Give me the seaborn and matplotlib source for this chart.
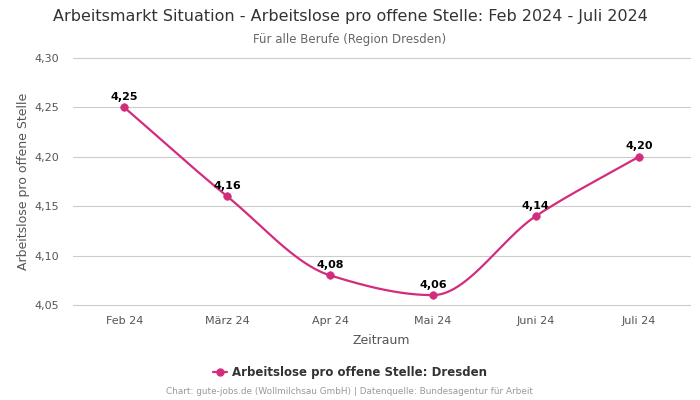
import numpy as np
import pandas as pd
import matplotlib
matplotlib.use("Agg")
import matplotlib.pyplot as plt
import seaborn as sns

months = ["Feb 24", "März 24", "Apr 24", "Mai 24", "Juni 24", "Juli 24"]
values = [4.25, 4.16, 4.08, 4.06, 4.14, 4.20]
yticks = [4.05, 4.10, 4.15, 4.20, 4.25, 4.30]

color = "#d42c7c"
sns.set_theme(style="white")
plt.rcParams['font.family'] = ['DejaVu Sans']

fig = plt.figure(figsize=(7, 4), dpi=100)
ax = fig.add_axes([0.104, 0.2375, 0.882, 0.6175])

df = pd.DataFrame({"x": np.arange(len(months)), "y": values, "series": "Arbeitslose pro offene Stelle: Dresden"})

# monotone cubic (PCHIP) smoothing for the rendered line
def pchip(x, y, xs):
    x = np.asarray(x, float); y = np.asarray(y, float)
    h = np.diff(x); d = np.diff(y) / h
    n = len(x); m = np.zeros(n)
    for k in range(1, n - 1):
        if d[k - 1] * d[k] <= 0:
            m[k] = 0
        else:
            w1 = 2 * h[k] + h[k - 1]; w2 = h[k] + 2 * h[k - 1]
            m[k] = (w1 + w2) / (w1 / d[k - 1] + w2 / d[k])
    m[0] = d[0]; m[-1] = d[-1]
    out = np.empty_like(xs)
    for i, xv in enumerate(xs):
        k = min(max(np.searchsorted(x, xv) - 1, 0), n - 2)
        t = (xv - x[k]) / h[k]
        h00 = 2*t**3 - 3*t**2 + 1; h10 = t**3 - 2*t**2 + t
        h01 = -2*t**3 + 3*t**2; h11 = t**3 - t**2
        out[i] = h00*y[k] + h10*h[k]*m[k] + h01*y[k+1] + h11*h[k]*m[k+1]
    return out

xs = np.linspace(0, len(months) - 1, 300)
ax.plot(xs, pchip(df["x"], df["y"], xs), color=color, lw=1.6, zorder=3)
sns.scatterplot(data=df, x="x", y="y", color=color, s=30, edgecolor=color, ax=ax, zorder=4,
                legend=False, clip_on=False)

for xv, yv in zip(df["x"], df["y"]):
    ax.annotate(f"{yv:.2f}".replace(".", ","), (xv, yv), xytext=(0, 4), textcoords="offset points",
                ha="center", va="bottom", fontsize=8, fontweight="bold", color="black")

ax.set_xlim(-0.5, len(months) - 0.5)
ax.set_ylim(4.05, 4.30)
ax.set_yticks(yticks)
ax.set_yticklabels([f"{v:.2f}".replace(".", ",") for v in yticks])
ax.set_xticks(range(len(months)))
ax.set_xticklabels(months)
ax.tick_params(axis="both", labelsize=8, labelcolor="#555555", length=0)
ax.tick_params(axis="y", pad=10)
ax.tick_params(axis="x", pad=8)
ax.grid(axis="y", color="#cccccc", lw=0.8)
for gl in ax.get_ygridlines():
    gl.set_clip_on(False)
for s in ax.spines.values():
    s.set_visible(False)
ax.set_xlabel("Zeitraum", fontsize=9, color="#555555", labelpad=6)
ax.set_ylabel("Arbeitslose pro offene Stelle", fontsize=9, color="#555555", labelpad=3)

fig.text(0.5, 0.958, "Arbeitsmarkt Situation - Arbeitslose pro offene Stelle: Feb 2024 - Juli 2024",
         ha="center", va="center", fontsize=11.5, color="#333333")
fig.text(0.5, 0.902, "Für alle Berufe (Region Dresden)", ha="center", va="center", fontsize=8.5, color="#666666")

from matplotlib.lines import Line2D
h = Line2D([0], [0], color=color, lw=1.6, marker="o", markersize=5)
fig.legend([h], ["Arbeitslose pro offene Stelle: Dresden"], loc="center", bbox_to_anchor=(0.5, 0.068),
           frameon=False, prop={"weight": "bold", "size": 8.5}, labelcolor="#333333", handlelength=1.2,
           handletextpad=0.4)
fig.text(0.5, 0.02, "Chart: gute-jobs.de (Wollmilchsau GmbH) | Datenquelle: Bundesagentur für Arbeit",
         ha="center", va="center", fontsize=6.4, color="#999999")

fig.savefig("out.png", dpi=100)
